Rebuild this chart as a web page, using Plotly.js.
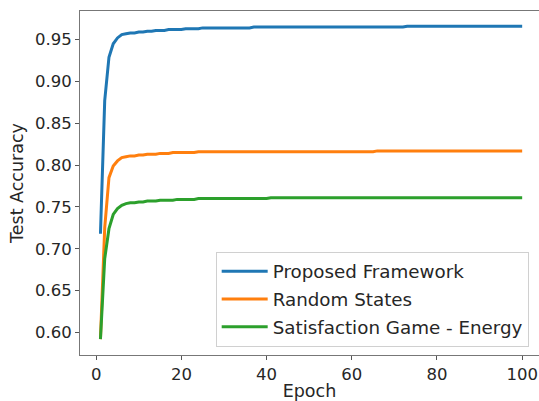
<!DOCTYPE html>
<html>
<head>
<meta charset="utf-8">
<script src="https://cdn.plot.ly/plotly-3.0.1.min.js"></script>
<style>
  html, body { margin: 0; padding: 0; background: #fff; }
  #chart { width: 539px; height: 401px; }
</style>
</head>
<body>
<div id="chart"></div>
<script>
// Epoch numbers 1..100
const epochs = [];
for (let i = 1; i <= 100; i++) epochs.push(i);

const seriesNames = ["Proposed Framework", "Random States", "Satisfaction Game - Energy"];

const proposed = [
  0.718, 0.877, 0.929, 0.945, 0.952, 0.956, 0.957, 0.958, 0.958, 0.959,
  0.959, 0.960, 0.960, 0.961, 0.961, 0.961, 0.962, 0.962, 0.962, 0.962,
  0.963, 0.963, 0.963, 0.963, 0.964, 0.964, 0.964, 0.964, 0.964, 0.964,
  0.964, 0.964, 0.964, 0.964, 0.964, 0.964, 0.965, 0.965, 0.965, 0.965,
  0.965, 0.965, 0.965, 0.965, 0.965, 0.965, 0.965, 0.965, 0.965, 0.965,
  0.965, 0.965, 0.965, 0.965, 0.965, 0.965, 0.965, 0.965, 0.965, 0.965,
  0.965, 0.965, 0.965, 0.965, 0.965, 0.965, 0.965, 0.965, 0.965, 0.965,
  0.965, 0.965, 0.966, 0.966, 0.966, 0.966, 0.966, 0.966, 0.966, 0.966,
  0.966, 0.966, 0.966, 0.966, 0.966, 0.966, 0.966, 0.966, 0.966, 0.966,
  0.966, 0.966, 0.966, 0.966, 0.966, 0.966, 0.966, 0.966, 0.966, 0.966
];

const randomStates = [
  0.592, 0.725, 0.785, 0.799, 0.805, 0.809, 0.810, 0.811, 0.811, 0.812,
  0.812, 0.813, 0.813, 0.813, 0.814, 0.814, 0.814, 0.815, 0.815, 0.815,
  0.815, 0.815, 0.815, 0.816, 0.816, 0.816, 0.816, 0.816, 0.816, 0.816,
  0.816, 0.816, 0.816, 0.816, 0.816, 0.816, 0.816, 0.816, 0.816, 0.816,
  0.816, 0.816, 0.816, 0.816, 0.816, 0.816, 0.816, 0.816, 0.816, 0.816,
  0.816, 0.816, 0.816, 0.816, 0.816, 0.816, 0.816, 0.816, 0.816, 0.816,
  0.816, 0.816, 0.816, 0.816, 0.816, 0.817, 0.817, 0.817, 0.817, 0.817,
  0.817, 0.817, 0.817, 0.817, 0.817, 0.817, 0.817, 0.817, 0.817, 0.817,
  0.817, 0.817, 0.817, 0.817, 0.817, 0.817, 0.817, 0.817, 0.817, 0.817,
  0.817, 0.817, 0.817, 0.817, 0.817, 0.817, 0.817, 0.817, 0.817, 0.817
];

const satisfactionGame = [
  0.592, 0.688, 0.724, 0.741, 0.748, 0.752, 0.754, 0.755, 0.755, 0.756,
  0.756, 0.757, 0.757, 0.757, 0.758, 0.758, 0.758, 0.758, 0.759, 0.759,
  0.759, 0.759, 0.759, 0.760, 0.760, 0.760, 0.760, 0.760, 0.760, 0.760,
  0.760, 0.760, 0.760, 0.760, 0.760, 0.760, 0.760, 0.760, 0.760, 0.760,
  0.761, 0.761, 0.761, 0.761, 0.761, 0.761, 0.761, 0.761, 0.761, 0.761,
  0.761, 0.761, 0.761, 0.761, 0.761, 0.761, 0.761, 0.761, 0.761, 0.761,
  0.761, 0.761, 0.761, 0.761, 0.761, 0.761, 0.761, 0.761, 0.761, 0.761,
  0.761, 0.761, 0.761, 0.761, 0.761, 0.761, 0.761, 0.761, 0.761, 0.761,
  0.761, 0.761, 0.761, 0.761, 0.761, 0.761, 0.761, 0.761, 0.761, 0.761,
  0.761, 0.761, 0.761, 0.761, 0.761, 0.761, 0.761, 0.761, 0.761, 0.761
];

const xTicks = [0, 20, 40, 60, 80, 100];
const yTicks = [0.60, 0.65, 0.70, 0.75, 0.80, 0.85, 0.90, 0.95];
const yTickLabels = ["0.60", "0.65", "0.70", "0.75", "0.80", "0.85", "0.90", "0.95"];

const colors = ["#1f77b4", "#ff7f0e", "#2ca02c"];
const allSeries = [proposed, randomStates, satisfactionGame];

const traces = allSeries.map((ys, i) => ({
  x: epochs,
  y: ys,
  type: "scatter",
  mode: "lines",
  name: seriesNames[i],
  legendgroup: "g" + i,
  line: { color: colors[i], width: 3 }
}));

const font = "DejaVu Sans, Liberation Sans, sans-serif";

const layout = {
  width: 539,
  height: 401,
  margin: { l: 80, r: 0, t: 11, b: 46, pad: 0 },
  paper_bgcolor: "#ffffff",
  plot_bgcolor: "#ffffff",
  font: { family: font, color: "#262626", size: 16.5 },
  showlegend: true,
  legend: {
    x: 0.2956, y: 0.024, xanchor: "left", yanchor: "bottom",
    bgcolor: "rgba(255,255,255,0.85)",
    bordercolor: "#d0d0d0", borderwidth: 1,
    font: { family: font, size: 18.3, color: "#262626" },
    itemwidth: 46,
    tracegroupgap: 1,
    traceorder: "grouped"
  },
  xaxis: {
    range: [-3.8, 103.95],
    tickvals: xTicks,
    ticks: "outside", ticklen: 4, tickwidth: 1, tickcolor: "#555",
    showline: true, linecolor: "#777", linewidth: 1, mirror: true,
    showgrid: false, zeroline: false,
    tickfont: { size: 16.5 },
    automargin: false,
    title: { text: "Epoch", font: { size: 17.5 }, standoff: 2 }
  },
  yaxis: {
    range: [0.573, 0.9842],
    tickvals: yTicks,
    ticktext: yTickLabels,
    ticks: "outside", ticklen: 4, tickwidth: 1, tickcolor: "#555",
    showline: true, linecolor: "#777", linewidth: 1, mirror: false,
    showgrid: false, zeroline: false,
    tickfont: { size: 16.5 },
    automargin: false,
    title: { text: "Test Accuracy", font: { size: 17.5 }, standoff: 6 }
  }
};

Plotly.newPlot("chart", traces, layout, { displayModeBar: false, staticPlot: true });
</script>
</body>
</html>
